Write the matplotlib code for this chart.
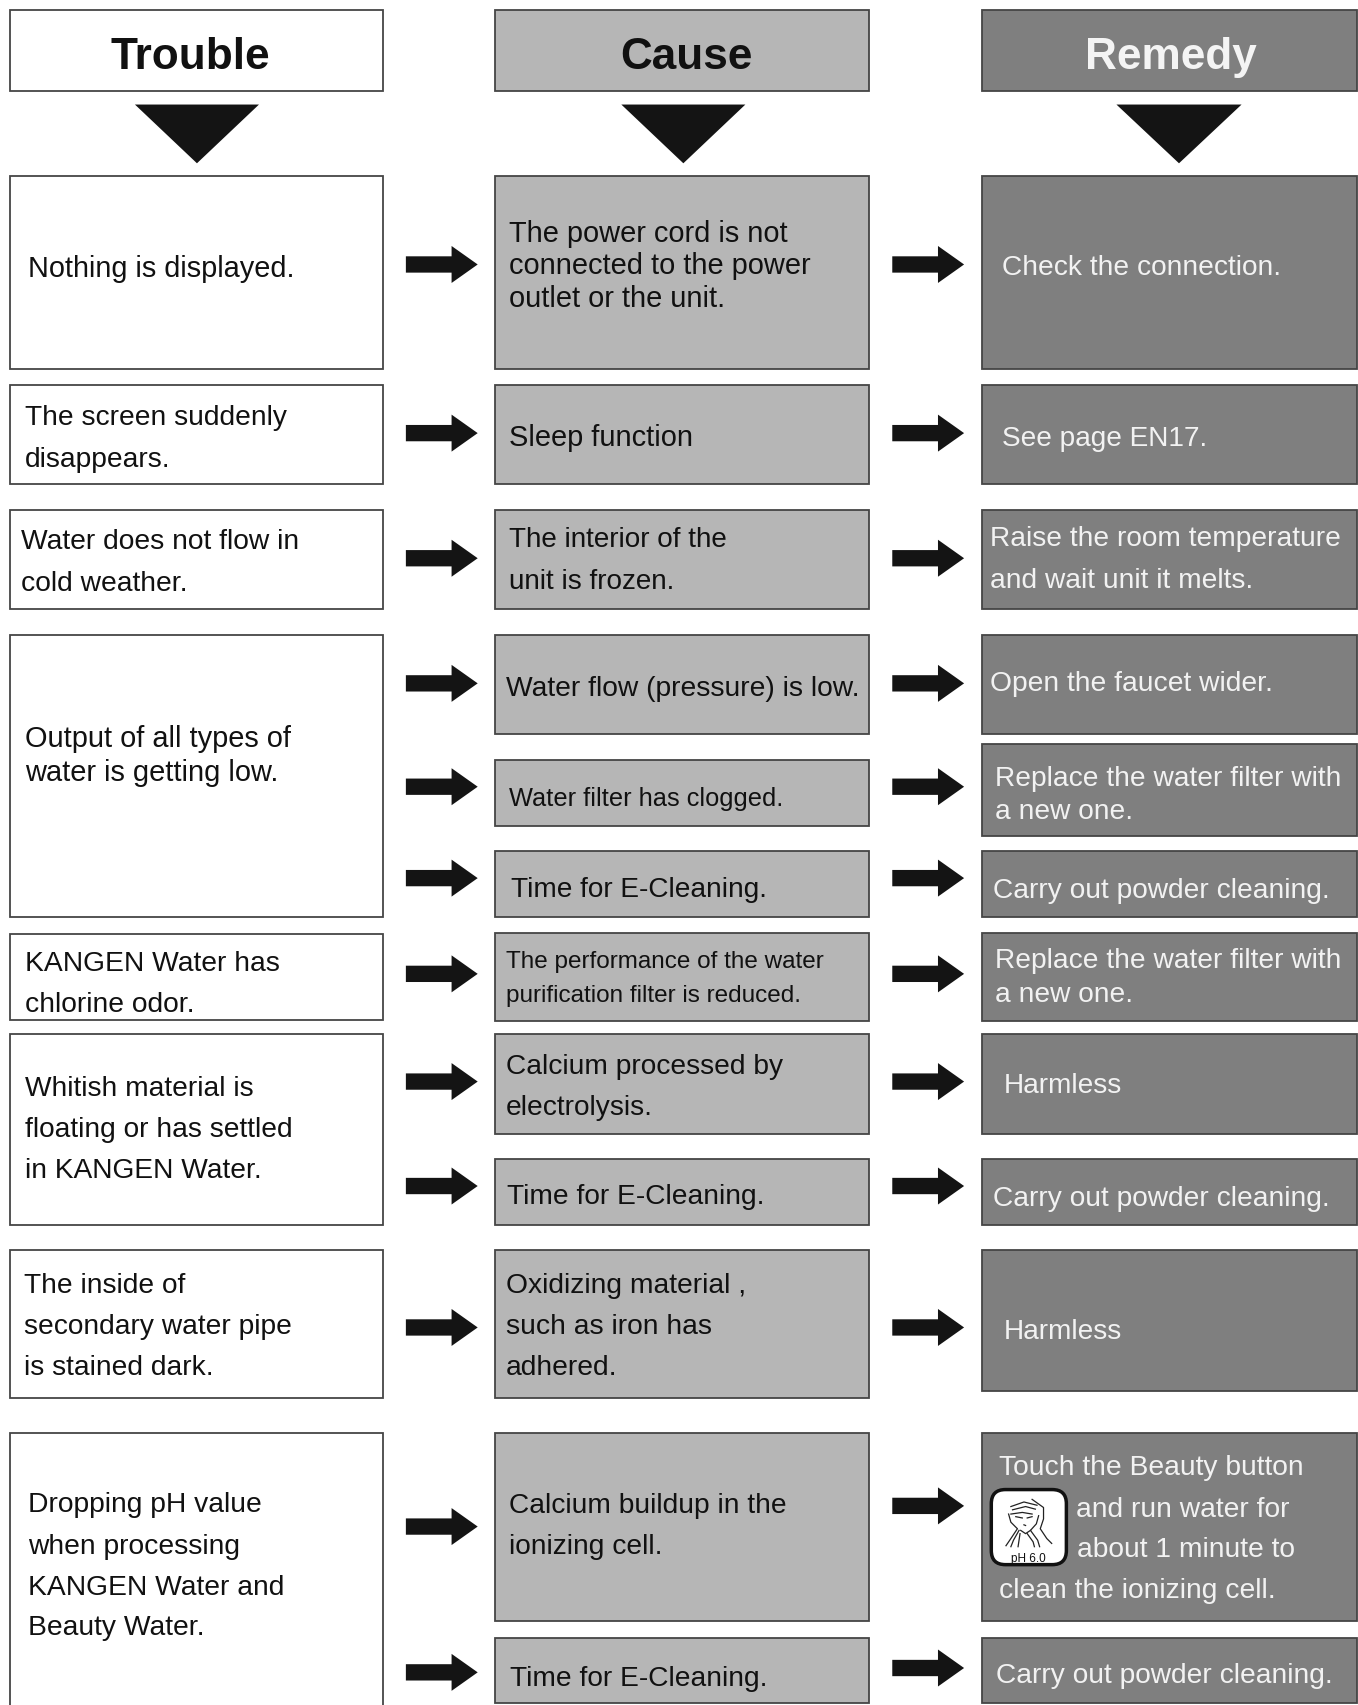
import matplotlib
matplotlib.use('Agg')
import matplotlib.pyplot as plt
from matplotlib.patches import Rectangle, Polygon, FancyBboxPatch

plt.rcParams['font.family'] = ['Liberation Sans', 'DejaVu Sans']

# all coordinates below are in the 1248x1568 view of the picture
headers = ['Trouble', 'Cause', 'Remedy']
header_x = [175, 630.5, 1076]

trouble_labels = [
    ['Nothing is displayed.'],
    ['The screen suddenly', 'disappears.'],
    ['Water does not flow in', 'cold weather.'],
    ['Output of all types of', 'water is getting low.'],
    ['KANGEN Water has', 'chlorine odor.'],
    ['Whitish material is', 'floating or has settled', 'in KANGEN Water.'],
    ['The inside of', 'secondary water pipe', 'is stained dark.'],
    ['Dropping pH value', 'when processing', 'KANGEN Water and', 'Beauty Water.'],
]
cause_labels = [
    ['The power cord is not', 'connected to the power', 'outlet or the unit.'],
    ['Sleep function'],
    ['The interior of the', 'unit is frozen.'],
    ['Water flow (pressure) is low.'],
    ['Water filter has clogged.'],
    ['Time for E-Cleaning.'],
    ['The performance of the water', 'purification filter is reduced.'],
    ['Calcium processed by', 'electrolysis.'],
    ['Time for E-Cleaning.'],
    ['Oxidizing material ,', 'such as iron has', 'adhered.'],
    ['Calcium buildup in the', 'ionizing cell.'],
    ['Time for E-Cleaning.'],
]
remedy_labels = [
    ['Check the connection.'],
    ['See page EN17.'],
    ['Raise the room temperature', 'and wait unit it melts.'],
    ['Open the faucet wider.'],
    ['Replace the water filter with', 'a new one.'],
    ['Carry out powder cleaning.'],
    ['Replace the water filter with', 'a new one.'],
    ['Harmless'],
    ['Carry out powder cleaning.'],
    ['Harmless'],
    ['Touch the Beauty button', 'and run water for', 'about 1 minute to', 'clean the ionizing cell.'],
    ['Carry out powder cleaning.'],
]

# box extents (top, bottom)
trouble_boxes = [(163, 340), (355, 446), (470, 561), (585, 844), (859, 938),
                 (951, 1127), (1150, 1286), (1318, 1590)]
cause_boxes = [(163, 340), (355, 446), (470, 561), (585, 676), (699, 760), (783, 844),
               (858, 939), (951, 1043), (1066, 1127), (1150, 1286), (1318, 1491), (1506, 1566)]
remedy_boxes = [(163, 340), (355, 446), (470, 561), (585, 676), (685, 769), (783, 844),
                (858, 939), (951, 1043), (1066, 1127), (1150, 1279), (1318, 1491), (1506, 1566)]

# first-line x, baseline of every line, font size of every box
trouble_x = [26, 23, 19, 23, 23, 23, 22, 26]
trouble_y = [[255], [391, 429], [505, 543], [687, 718], [892, 930],
             [1007, 1045, 1083], [1188, 1226, 1264], [1390, 1428, 1466, 1503]]
trouble_size = [20.8, 20.25, 20.35, 20.9, 20.3, 20.25, 20.25, 20.3]
cause_x = [468, 468, 468, 465, 468, 470, 465, 465, 466, 465, 468, 469]
cause_y = [[222, 252, 282], [410], [503, 541], [640], [741], [824], [890, 921],
           [987, 1025], [1107], [1188, 1226, 1264], [1391, 1428], [1550]]
cause_size = [20.9, 20.85, 20.1, 20.35, 18.3, 20.15, 17.45, 20.25, 20.25, 20.3, 20.25, 20.25]
remedy_x = [921, 921, 910, 910, 914, 913, 914, 922, 913, 922, 918, 915]
remedy_y = [[253], [410], [502, 540], [635], [722, 753], [825], [890, 921], [1005],
            [1108], [1231], [1356, 1394, 1431, 1469], [1547]]
remedy_size = [20.25, 20.2, 20.25, 20.35, 20.25, 20.25, 20.25, 20.15, 20.25, 20.15, 20.35, 20.25]

arrow_left_y = [244, 399, 514, 629, 724, 808, 896, 995, 1091, 1221, 1404, 1538]
arrow_right_y = [244, 399, 514, 629, 724, 808, 896, 995, 1091, 1221, 1385, 1534]

columns = [(9, 352), (455, 799), (902, 1247)]
fills = ['white', '#b6b6b6', '#7f7f7f']
triangles = [(124, 238), (571, 685), (1026, 1141)]

# strokes of the face icon, inside a 230x230 tile
face_strokes = [
    ([60, 100, 140], [52, 38, 48]),
    ([65, 105, 135], [62, 52, 60]),
    ([60, 95, 125], [75, 70, 75]),
    ([75, 95], [83, 87]),
    ([110, 125], [87, 83]),
    ([125, 160, 160, 150, 170, 185], [30, 55, 90, 120, 150, 165]),
    ([53, 60, 80, 60, 45], [75, 100, 120, 150, 172]),
    ([85, 68, 60], [125, 155, 175]),
    ([145, 138, 120, 142, 148], [80, 105, 125, 155, 175]),
    ([110, 128, 132], [135, 160, 175]),
    ([88, 82], [135, 175]),
    ([90, 105, 120], [125, 135, 125]),
    ([100, 105], [108, 110]),
]


def draw_box(ax, col, top, bottom):
    left, right = columns[col]
    ax.add_patch(Rectangle((left, top), right - left, bottom - top,
                           facecolor=fills[col], edgecolor='#454545', linewidth=1.3))


def draw_arrow(ax, x0, yc):
    pts = [(x0, yc - 7.5), (x0 + 42, yc - 7.5), (x0 + 42, yc - 17), (x0 + 66, yc),
           (x0 + 42, yc + 17), (x0 + 42, yc + 7.5), (x0, yc + 7.5)]
    ax.add_patch(Polygon(pts, closed=True, facecolor='#141414', edgecolor='none'))


def draw_lines(ax, lines, x, ys, color, size):
    for line, y in zip(lines, ys):
        ax.text(x, y, line, color=color, fontsize=size, ha='left', va='baseline')


def draw_icon(ax):
    left, top, side = 911, 1370, 69
    ax.add_patch(FancyBboxPatch((left, top), side, side, boxstyle='round,pad=0,rounding_size=13',
                                facecolor='white', edgecolor='#111111', linewidth=2.5, zorder=3))
    k = side / 230
    for xs, ys in face_strokes:
        ax.plot([left + x * k for x in xs], [top + y * k for y in ys],
                color='#222222', linewidth=0.9, zorder=4)
    ax.text(left + 34, 1436, 'pH 6.0', fontsize=8.5, color='#111111',
            ha='center', va='baseline', zorder=4)


def main():
    fig = plt.figure(figsize=(13.58, 17.06), dpi=100)
    ax = fig.add_axes([0, 0, 1, 1])
    ax.set_xlim(0, 1248)
    ax.set_ylim(1568, 0)
    ax.axis('off')

    # header row
    for col, name in enumerate(headers):
        draw_box(ax, col, 10, 85)
        ax.text(header_x[col], 63, name, fontsize=31.8, fontweight='bold',
                color='#111111' if col < 2 else '#f4f4f4', ha='center', va='baseline')
        t0, t1 = triangles[col]
        ax.add_patch(Polygon([(t0, 97), (t1, 97), ((t0 + t1) / 2, 151)], closed=True,
                             facecolor='#141414', edgecolor='none'))

    for (top, bottom), lines, x, ys, size in zip(trouble_boxes, trouble_labels, trouble_x, trouble_y, trouble_size):
        draw_box(ax, 0, top, bottom)
        draw_lines(ax, lines, x, ys, '#111111', size)

    for (top, bottom), lines, x, ys, size in zip(cause_boxes, cause_labels, cause_x, cause_y, cause_size):
        draw_box(ax, 1, top, bottom)
        draw_lines(ax, lines, x, ys, '#111111', size)

    for i, ((top, bottom), lines, x, ys, size) in enumerate(zip(remedy_boxes, remedy_labels, remedy_x, remedy_y, remedy_size)):
        draw_box(ax, 2, top, bottom)
        if i == 10:
            # the lines next to the icon start further right
            draw_lines(ax, lines[:1], x, ys[:1], '#f2f2f2', size)
            draw_lines(ax, lines[1:2], 989, ys[1:2], '#f2f2f2', size)
            draw_lines(ax, lines[2:3], 990, ys[2:3], '#f2f2f2', size)
            draw_lines(ax, lines[3:], x, ys[3:], '#f2f2f2', size)
        else:
            draw_lines(ax, lines, x, ys, '#f2f2f2', size)

    for y in arrow_left_y:
        draw_arrow(ax, 373, y)
    for y in arrow_right_y:
        draw_arrow(ax, 820, y)

    draw_icon(ax)

    fig.savefig('out.png', dpi=100, facecolor='white')


if __name__ == "__main__":
    main()
